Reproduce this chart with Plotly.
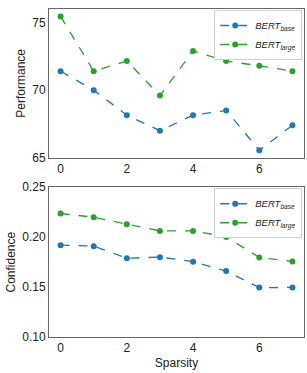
import plotly.graph_objects as go
from plotly.subplots import make_subplots

sparsity = [0, 1, 2, 3, 4, 5, 6, 7]
perf_base = [71.4, 70.0, 68.15, 67.0, 68.15, 68.5, 65.55, 67.4]
perf_large = [75.45, 71.4, 72.15, 69.6, 72.9, 72.15, 71.8, 71.4]
conf_base = [0.192, 0.191, 0.179, 0.180, 0.1755, 0.166, 0.1495, 0.1497]
conf_large = [0.2237, 0.220, 0.213, 0.2063, 0.2063, 0.2003, 0.1797, 0.1757]
names = ["<i>BERT<sub>base</sub></i>", "<i>BERT<sub>large</sub></i>"]
colors = ["#1f77b4", "#2ca02c"]

fig = make_subplots(rows=2, cols=1, vertical_spacing=0.09)

for i, (vals, row, lg) in enumerate([(perf_base, 1, "legend"), (perf_large, 1, "legend"),
                                     (conf_base, 2, "legend2"), (conf_large, 2, "legend2")]):
    c = colors[i % 2]
    fig.add_trace(go.Scatter(x=sparsity, y=vals, mode="lines+markers", name=names[i % 2],
                             line=dict(color=c, dash="dash", width=1.3),
                             marker=dict(color=c, size=6), legend=lg), row=row, col=1)

axis_common = dict(showline=True, mirror=True, linecolor="#666666", linewidth=1,
                   showgrid=False, zeroline=False, ticks="",
                   tickfont=dict(size=12, color="#222222"))
fig.update_xaxes(range=[-0.35, 7.35], tickvals=[0, 2, 4, 6], **axis_common)
fig.update_yaxes(**axis_common)
fig.update_yaxes(range=[65, 76], tickvals=[65, 70, 75], row=1, col=1,
                 title=dict(text="Performance", font=dict(size=12, color="#222222"), standoff=4))
fig.update_yaxes(range=[0.1, 0.25], tickvals=[0.10, 0.15, 0.20, 0.25], tickformat=".2f",
                 row=2, col=1,
                 title=dict(text="Confidence", font=dict(size=12, color="#222222"), standoff=4))
fig.update_xaxes(row=2, col=1, title=dict(text="Sparsity", font=dict(size=12, color="#222222"), standoff=4))

fig.update_layout(
    width=307, height=373,
    margin=dict(l=49, r=2, t=4, b=36),
    paper_bgcolor="white", plot_bgcolor="white",
    font=dict(family="Liberation Sans, Arial, sans-serif", size=12, color="#222222"),
    yaxis=dict(domain=[0.5465, 1.0]),
    yaxis2=dict(domain=[0.0, 0.4565]),
    legend=dict(x=0.993, y=0.997, xanchor="right", yanchor="top",
                bordercolor="#d0d0d0", borderwidth=1, bgcolor="white",
                font=dict(size=9.5), tracegroupgap=0, itemwidth=30),
    legend2=dict(x=0.993, y=0.4535, xanchor="right", yanchor="top",
                 bordercolor="#d0d0d0", borderwidth=1, bgcolor="white",
                 font=dict(size=9.5), tracegroupgap=0, itemwidth=30),
)

fig.write_html("out.html", config={"displayModeBar": False},
               post_script="document.body.style.margin='0';document.body.style.overflow='hidden';")
